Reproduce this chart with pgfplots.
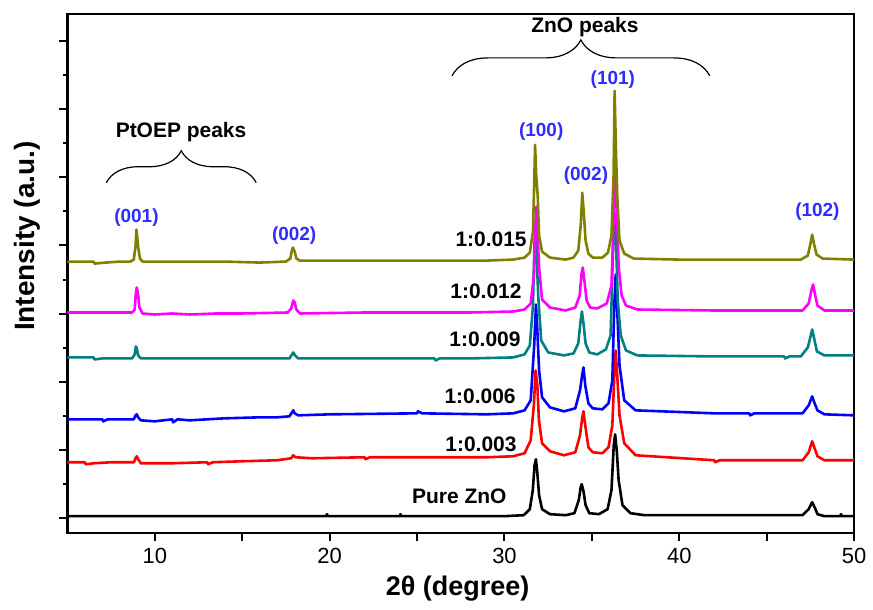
\documentclass[border=0pt]{standalone}
\usepackage{pgfplots}
\pgfplotsset{compat=1.18}
\usepackage{fontspec}
\setmainfont{Liberation Sans}
\usetikzlibrary{decorations.pathreplacing}
\definecolor{olivec}{RGB}{128,128,0}
\definecolor{magc}{RGB}{255,0,255}
\definecolor{tealc}{RGB}{0,128,128}
\definecolor{bluec}{RGB}{0,0,255}
\definecolor{redc}{RGB}{255,0,0}
\definecolor{lblblue}{RGB}{45,45,255}
\begin{document}
\begin{tikzpicture}
\begin{axis}[
  scale only axis, width=394pt, height=260pt,
  xmin=5, xmax=50, ymin=2, ymax=522,
  axis line style={line width=1.3pt},
  tick align=outside, xtick pos=bottom, ytick pos=left,
  xtick={10,20,30,40,50},
  extra x ticks={15,25,35,45}, extra x tick labels={},
  ytick={17,85.3,153.6,221.9,290.2,358.5,426.8,495.1},
  yticklabels={},
  minor y tick num=1,
  major tick length=4pt, minor tick length=2pt,
  every tick/.style={black, line width=1pt},
  /pgf/number format/assume math mode=true,
  xticklabel style={font=\fontsize{11}{13}\selectfont},
  xlabel={\textbf{2θ (degree)}},
  xlabel style={font=\fontsize{13.5}{15}\selectfont, at={(rel axis cs:0.496,0)}, anchor=center, yshift=-28pt},
  ylabel={\textbf{Intensity (a.u.)}},
  ylabel style={font=\fontsize{14}{16}\selectfont, at={(rel axis cs:0,0.572)}, anchor=center, yshift=20pt},
  every axis plot/.append style={line width=1.3pt, line join=round, mark=none},
]
% Pure ZnO
\addplot[black] coordinates {
(5,19) (19.8,19) (19.85,21) (19.9,19) (24,19) (24.05,21) (24.1,19) (30,19) (31.1,20) (31.45,26) (31.62,45) (31.72,70) (31.8,76) (31.88,62) (31.98,40) (32.15,26) (32.6,21) (33.5,20) (34.0,22) (34.25,35) (34.36,48) (34.42,51) (34.52,44) (34.64,30) (34.85,22) (35.4,21) (35.9,26) (36.12,45) (36.25,90) (36.33,101) (36.42,85) (36.53,55) (36.75,30) (37.2,22) (38,20) (47.05,20) (47.4,26) (47.6,33) (47.74,28) (47.9,21) (48.3,19) (49.2,19) (49.25,21) (49.3,19) (50,19)};
% 1:0.003
\addplot[redc] coordinates {
(5,73) (6,73) (6.05,71) (6.5,72) (7.5,73) (8.8,73) (8.9,77) (8.97,79) (9.05,76) (9.2,72) (11,72) (13,73) (13.05,71) (13.3,73) (15,74) (17,75) (17.8,77) (17.92,80) (18.05,78) (19,77) (22,78) (22.05,76) (22.3,78) (26,78) (29,78) (30.5,79) (31.15,82) (31.5,95) (31.68,130) (31.78,165) (31.88,150) (31.97,115) (32.15,92) (32.6,84) (33.4,80) (34.05,83) (34.32,100) (34.45,118) (34.52,124) (34.62,110) (34.8,88) (35.05,83) (35.6,82) (35.95,88) (36.17,110) (36.28,160) (36.36,185) (36.45,160) (36.58,120) (36.85,92) (37.5,80) (42,75) (42.05,73) (42.3,75) (47.05,75) (47.4,83) (47.6,94) (47.72,88) (47.9,79) (48.3,75) (50,75)};
% 1:0.006
\addplot[bluec] coordinates {
(5,116) (7,116) (7.05,114) (7.3,116) (8.8,116) (8.9,120) (8.97,121) (9.05,118) (9.2,115) (10,114) (11,116) (11.05,113) (11.3,116) (12,115) (14,117) (16,118) (17,118) (17.7,119) (17.85,123) (17.92,125) (18.0,122) (18.2,120) (20,121) (25,122) (25.05,124) (25.3,122) (29,121) (30.5,122) (31.15,125) (31.5,135) (31.7,190) (31.8,231) (31.88,205) (31.98,165) (32.15,138) (32.6,128) (33.4,124) (34.05,127) (34.32,145) (34.44,160) (34.52,168) (34.62,150) (34.8,132) (35.05,127) (35.6,126) (35.95,132) (36.17,155) (36.28,230) (36.36,261) (36.45,225) (36.58,170) (36.85,135) (37.5,125) (42,122) (44,122) (44.05,120) (44.3,122) (47.05,122) (47.4,130) (47.6,139) (47.72,133) (47.9,125) (48.3,121) (50,120)};
% 1:0.009
\addplot[tealc] coordinates {
(5,178) (6.5,178) (6.55,176) (7,177) (8.7,177) (8.85,181) (8.92,189) (8.97,187) (9.05,180) (9.2,177) (12,177) (15,177) (17.7,177) (17.85,181) (17.92,183) (18.02,180) (18.2,177) (22,177) (26,177) (26.05,175) (26.3,177) (28,177) (30.5,178) (31.15,181) (31.45,190) (31.63,230) (31.71,290) (31.76,306) (31.84,280) (31.93,240) (32.1,195) (32.5,183) (33.4,180) (33.95,182) (34.22,192) (34.35,214) (34.43,224) (34.52,212) (34.64,192) (34.85,183) (35.3,181) (35.8,186) (36.07,200) (36.2,280) (36.28,324) (36.37,300) (36.48,235) (36.65,200) (36.95,185) (37.6,180) (42,179) (46,179) (46.05,177) (46.3,179) (46.95,179) (47.35,188) (47.52,200) (47.6,206) (47.7,198) (47.87,184) (48.3,180) (50,180)};
% 1:0.012
\addplot[magc] coordinates {
(5,223) (8.7,223) (8.85,226) (8.92,243) (8.97,248) (9.05,240) (9.12,228) (9.3,222) (10,221) (11,222) (12,221) (13.5,222) (15,222) (17.6,223) (17.8,227) (17.92,235) (18.0,233) (18.1,226) (18.3,222) (22,223) (28,223) (30.5,224) (31.15,226) (31.5,232) (31.68,260) (31.77,310) (31.82,329) (31.9,300) (31.98,268) (32.15,236) (32.6,228) (33.5,225) (34.05,228) (34.3,240) (34.41,262) (34.48,268) (34.57,255) (34.7,235) (34.9,228) (35.3,227) (35.85,232) (36.12,250) (36.25,320) (36.33,368) (36.42,330) (36.53,270) (36.7,240) (36.95,230) (37.6,226) (42,225) (47.05,225) (47.4,232) (47.57,246) (47.65,251) (47.74,243) (47.9,230) (48.3,225) (50,225)};
% 1:0.015
\addplot[olivec] coordinates {
(5,274) (6.5,274) (6.55,272) (7.2,273) (8.0,274) (8.6,274) (8.8,276) (8.9,290) (8.95,306) (9.0,298) (9.05,288) (9.15,277) (9.3,274) (12,274) (14,274) (16,273) (17.5,274) (17.75,277) (17.85,286) (17.9,288) (18.0,284) (18.1,277) (18.3,275) (20,275) (25,275) (29,275) (30.5,276) (31.15,278) (31.45,283) (31.63,304) (31.71,360) (31.75,391) (31.82,359) (31.9,340) (31.98,300) (32.15,284) (32.6,278) (33.5,276) (33.95,278) (34.22,285) (34.36,310) (34.45,343) (34.53,325) (34.64,295) (34.8,282) (35.05,278) (35.6,278) (35.92,283) (36.12,300) (36.24,360) (36.3,445) (36.37,390) (36.45,340) (36.58,295) (36.85,282) (37.4,277) (40,276) (45,276) (46.95,276) (47.35,280) (47.5,292) (47.6,301) (47.7,292) (47.85,281) (48.2,277) (50,276)};
% peak labels
\begin{scope}[every node/.style={font=\bfseries\fontsize{9.5}{11}\selectfont, text=lblblue, inner sep=0pt}]
\node at (axis cs:8.95,318) {(001)};
\node at (axis cs:17.97,300) {(002)};
\node at (axis cs:32.1,404) {(100)};
\node at (axis cs:34.66,360) {(002)};
\node at (axis cs:36.2,456) {(101)};
\node at (axis cs:47.9,324) {(102)};
\end{scope}
% series labels
\begin{scope}[every node/.style={font=\bfseries\fontsize{10.5}{12}\selectfont, anchor=east, inner sep=0pt}]
\node at (axis cs:31.29,296) {1:0.015};
\node at (axis cs:31.0,244) {1:0.012};
\node at (axis cs:30.94,196) {1:0.009};
\node at (axis cs:30.66,139) {1:0.006};
\node at (axis cs:30.71,91) {1:0.003};
\node at (axis cs:30.14,39) {Pure ZnO};
\end{scope}
% braces
\draw[line width=0.6pt, decorate, decoration={brace, amplitude=16pt}] (axis cs:7.23,353) -- (axis cs:15.8,353);
\draw[line width=0.6pt, decorate, decoration={brace, amplitude=18pt}] (axis cs:27.0,460) -- (axis cs:41.74,460);
\node[font=\bfseries\fontsize{10.5}{12}\selectfont, inner sep=0pt] at (axis cs:11.5,404) {PtOEP peaks};
\node[font=\bfseries\fontsize{10.5}{12}\selectfont, inner sep=0pt] at (axis cs:34.6,509) {ZnO peaks};
\end{axis}
\path (current axis.south west) ++(-33.75pt,-38pt) rectangle ++(436.5pt,305pt);
\end{tikzpicture}
\end{document}
